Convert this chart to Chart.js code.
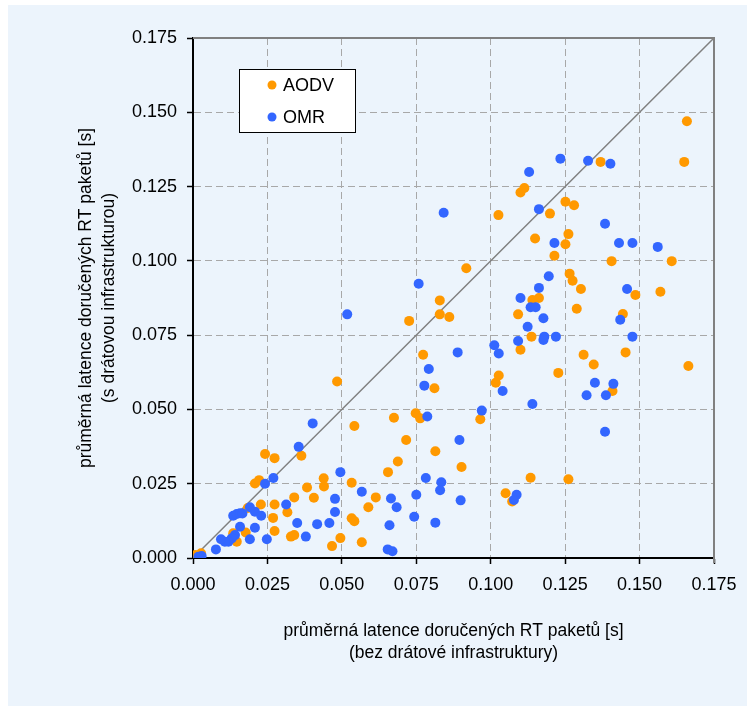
<!DOCTYPE html>
<html><head><meta charset="utf-8">
<script src="https://cdn.jsdelivr.net/npm/chart.js@4.4.0/dist/chart.umd.min.js"></script>
<style>html,body{margin:0;padding:0;background:#fff;overflow:hidden}
#wrap{width:747px;height:706px;position:relative}</style>
</head><body><div id="wrap"><canvas id="c" width="747" height="706"></canvas></div>
<script>
// ---- data ----
const seriesNames = ['AODV', 'OMR'];
const xTitle = ['průměrná latence doručených RT paketů [s]', '(bez drátové infrastruktury)'];
const yTitle = ['průměrná latence doručených RT paketů [s]', '(s drátovou infrastrukturou)'];
const axisMin = 0;
const axisMax = 0.175;
const tickStep = 0.025;

const aodvX = [0.0484,0.0542,0.0242,0.0274,0.0364,0.0533,0.0439,0.0440,0.0383,0.0406,0.0340,0.0317,0.0274,0.0269,0.0274,0.0228,0.0208,0.0222,0.0184,0.0177,0.0135,0.0147,0.0329,0.0340,0.0467,0.0495,0.0533,0.0542,0.0567,0.0007,0.0027,0.0005,0.0811,0.1017,0.0965,0.0675,0.0748,0.0763,0.0716,0.0814,0.0688,0.0655,0.0902,0.0614,0.0589,0.1050,0.1072,0.1134,0.1409,0.1261,0.1026,0.0918,0.0829,0.0829,0.0861,0.0726,0.0773,0.1027,0.1140,0.1092,0.1137,0.1100,0.1149,0.1251,0.1280,0.1199,0.1261,0.1251,0.1214,0.1406,0.1608,0.1265,0.1275,0.1303,0.1162,0.1486,0.1570,0.1289,0.1444,0.1312,0.1346,0.1453,0.1664,0.1227,0.1100,0.1113,0.1659,0.1650,0.1369];
const aodvY = [0.0594,0.0444,0.0350,0.0336,0.0344,0.0253,0.0268,0.0241,0.0237,0.0203,0.0204,0.0154,0.0180,0.0135,0.0091,0.0180,0.0251,0.0262,0.0168,0.0086,0.0083,0.0055,0.0072,0.0077,0.0040,0.0067,0.0134,0.0124,0.0053,0.0010,0.0016,0.0003,0.0571,0.0590,0.0467,0.0472,0.0487,0.0470,0.0397,0.0359,0.0325,0.0289,0.0306,0.0204,0.0171,0.0218,0.0190,0.0270,0.0562,0.0265,0.1154,0.0975,0.0867,0.0820,0.0811,0.0798,0.0684,0.0614,0.0868,0.0820,0.0745,0.0701,0.1075,0.1199,0.1187,0.1159,0.1090,0.1056,0.1017,0.0999,0.0999,0.0957,0.0933,0.0905,0.0875,0.0885,0.0896,0.0839,0.0821,0.0684,0.0651,0.0692,0.0646,0.0623,0.1230,0.1245,0.1470,0.1333,0.1333];

const omrX = [0.0402,0.0355,0.0495,0.0567,0.0477,0.0477,0.0313,0.0242,0.0270,0.0191,0.0208,0.0229,0.0135,0.0147,0.0158,0.0166,0.0158,0.0208,0.0141,0.0130,0.0119,0.0107,0.0094,0.0191,0.0248,0.0077,0.0350,0.0379,0.0417,0.0458,0.0018,0.0029,0.0777,0.1040,0.1140,0.0970,0.0787,0.0895,0.0782,0.0834,0.0830,0.0665,0.0684,0.0750,0.0899,0.0743,0.0814,0.0660,0.0654,0.0670,0.1087,0.1078,0.1350,0.1412,0.1322,0.1387,0.1384,0.0518,0.0842,0.0758,0.0889,0.0792,0.1012,0.1027,0.1100,0.1134,0.1124,0.1092,0.1162,0.1384,0.1214,0.1431,0.1476,0.1561,0.1195,0.1162,0.1458,0.1151,0.1177,0.1435,0.1180,0.1177,0.1219,0.1476,0.1129,0.1234,0.1327,0.1402];
const omrY = [0.0453,0.0374,0.0289,0.0223,0.0199,0.0155,0.0180,0.0250,0.0269,0.0171,0.0156,0.0142,0.0142,0.0148,0.0151,0.0150,0.0105,0.0102,0.0077,0.0066,0.0055,0.0055,0.0063,0.0063,0.0063,0.0029,0.0118,0.0072,0.0114,0.0118,0.0004,0.0007,0.0580,0.0562,0.0518,0.0496,0.0476,0.0397,0.0269,0.0255,0.0228,0.0200,0.0171,0.0213,0.0194,0.0139,0.0119,0.0110,0.0029,0.0023,0.0213,0.0195,0.0590,0.0586,0.0548,0.0548,0.0425,0.0820,0.1162,0.0923,0.0692,0.0636,0.0716,0.0688,0.0875,0.0844,0.0778,0.0730,0.1174,0.1125,0.1060,0.1060,0.1060,0.1047,0.0948,0.0909,0.0905,0.0844,0.0807,0.0802,0.0745,0.0734,0.0745,0.0745,0.1299,0.1344,0.1337,0.1327];

// ---- build ----
const toPts = (xs, ys) => xs.map((x, i) => ({x: x, y: ys[i]}));
const FONT = '"Liberation Sans", Arial, sans-serif';
Chart.defaults.font.family = FONT;
Chart.defaults.color = '#000';

const bgPlugin = {
  id: 'bg',
  beforeDraw(chart) {
    const c = chart.ctx;
    c.save();
    c.fillStyle = '#ffffff';
    c.fillRect(0, 0, chart.width, chart.height);
    c.fillStyle = '#ECF4FC';
    c.fillRect(8, 5, chart.width - 8, chart.height - 5);
    c.restore();
  }
};
const framePlugin = {
  id: 'frame',
  beforeDatasetsDraw(chart) {
    const a = chart.chartArea, c = chart.ctx;
    c.save();
    c.strokeStyle = '#808080';
    c.lineWidth = 2;
    c.beginPath();
    c.moveTo(a.left, a.top);
    c.lineTo(a.right, a.top);
    c.lineTo(a.right, a.bottom + 5);
    c.stroke();
    c.restore();
  }
};
const legendPlugin = {
  id: 'boxLegend',
  afterDraw(chart) {
    const c = chart.ctx;
    const bx = 239, by = 69, bw = 116, bh = 63;
    c.save();
    c.fillStyle = '#ffffff';
    c.fillRect(bx, by, bw, bh);
    c.strokeStyle = '#000';
    c.lineWidth = 1;
    c.strokeRect(bx + 0.5, by + 0.5, bw, bh);
    c.font = '18px ' + FONT;
    c.textBaseline = 'middle';
    c.textAlign = 'left';
    seriesNames.forEach((name, i) => {
      const d = chart.data.datasets.find(ds => ds.label === name);
      const y = by + 16 + i * 32;
      c.fillStyle = d.backgroundColor;
      c.beginPath();
      c.arc(bx + 33, y, 4.5, 0, Math.PI * 2);
      c.fill();
      c.fillStyle = '#000';
      c.fillText(d.label, bx + 44, y + 1);
    });
    c.restore();
  }
};

const isEdge = v => Math.abs(v - axisMin) < 1e-9 || Math.abs(v - axisMax) < 1e-9;
const gridCfg = {
  color: ctx => (ctx.tick && isEdge(ctx.tick.value)) ? 'rgba(0,0,0,0)' : '#A8A8A8',
  lineWidth: 1,
  borderDash: [7, 4],
  tickColor: '#000',
  tickLength: 6,
  tickWidth: 1.5
};

new Chart(document.getElementById('c'), {
  type: 'scatter',
  data: {
    datasets: [
      { label: seriesNames[1], data: toPts(omrX, omrY), backgroundColor: '#3366FF', borderWidth: 0, pointRadius: 5, pointHoverRadius: 5, order: 1 },
      { label: seriesNames[0], data: toPts(aodvX, aodvY), backgroundColor: '#FF9900', borderWidth: 0, pointRadius: 5, pointHoverRadius: 5, order: 2 },
      { type: 'line', label: 'diag', data: [{x: axisMin, y: axisMin}, {x: axisMax, y: axisMax}], borderColor: '#808080', borderWidth: 1.5, pointRadius: 0, fill: false, order: 3 }
    ]
  },
  options: {
    responsive: false,
    animation: false,
    devicePixelRatio: 1,
    layout: { padding: { left: 8, right: 33, top: 38, bottom: 0 } },
    plugins: { legend: { display: false }, tooltip: { enabled: false } },
    scales: {
      x: {
        type: 'linear', min: axisMin, max: axisMax,
        afterFit(s) { s.height = 148; },
        ticks: { stepSize: tickStep, padding: 10, font: { size: 18 }, color: '#000', maxRotation: 0, callback: v => v.toFixed(3) },
        grid: gridCfg,
        border: { display: true, color: '#000', width: 2, dash: [7, 4] },
        title: { display: true, text: xTitle, font: { size: 17.5, lineHeight: 1.3 }, color: '#000', padding: { top: 0, bottom: 41 } }
      },
      y: {
        type: 'linear', min: axisMin, max: axisMax,
        afterFit(s) { s.width = 185; },
        ticks: { stepSize: tickStep, padding: 10, font: { size: 18 }, color: '#000', callback: v => v.toFixed(3) },
        grid: gridCfg,
        border: { display: true, color: '#000', width: 2, dash: [7, 4] },
        title: { display: true, text: yTitle, font: { size: 17.5, lineHeight: 1.3 }, color: '#000', padding: { top: 67, bottom: 0 } }
      }
    }
  },
  plugins: [bgPlugin, framePlugin, legendPlugin]
});
</script></body></html>
